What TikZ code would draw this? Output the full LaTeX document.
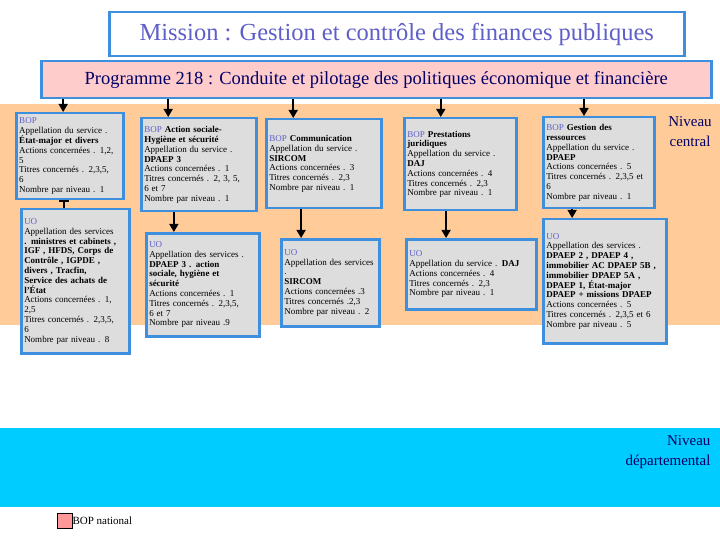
\documentclass[tikz,border=0pt]{standalone}
\usepackage{fontspec}
\setmainfont{Liberation Serif}
\usetikzlibrary{arrows.meta,calc}
\definecolor{bandorange}{HTML}{FFCC99}
\definecolor{bandcyan}{HTML}{00CCFF}
\definecolor{boxblue}{HTML}{3F8FDF}
\definecolor{boxgrey}{HTML}{DDDDDD}
\definecolor{titleblue}{HTML}{5F5FC8}
\definecolor{progpink}{HTML}{FFCCCC}
\definecolor{navy}{HTML}{000066}
\definecolor{legpink}{HTML}{FF9999}
\newcommand{\boxlab}[1]{\textcolor{titleblue}{#1}}

\begin{document}
\begin{tikzpicture}[x=1pt,y=-1pt]
\tikzstyle{cell}=[draw=boxblue,line width=2.5pt,fill=boxgrey,anchor=north west,align=left,
  inner xsep=3pt,inner ysep=3pt,font=\fontsize{9}{9.8}\selectfont]
\tikzstyle{conn}=[line width=1.5pt,-{Triangle[width=9pt,length=8pt]}]
\tikzstyle{level}=[align=center,anchor=north,font=\fontsize{15}{20}\selectfont,text=navy]
\useasboundingbox (0,0) rectangle (720,540);

% bands
\fill[bandorange] (0,104) rectangle (720,325);
\fill[bandcyan] (0,428) rectangle (720,507);

\node[draw=boxblue,line width=2.5pt,fill=white,anchor=north west,minimum width=575,minimum height=44,
  font=\fontsize{24.5}{28}\selectfont,text=titleblue] (mission) at (108,11)
  {Mission : Gestion et contrôle des finances publiques};
\node[draw=boxblue,line width=2.5pt,fill=progpink,anchor=north west,minimum width=670,minimum height=37,
  font=\fontsize{18.5}{20}\selectfont,text=navy] (prog) at (40,60)
  {Programme 218 : Conduite et pilotage des politiques économique et financière};

% BOP
\node[cell,text width=101,minimum height=86] (bopA) at (15,112)
  {\boxlab{BOP}\\ Appellation du service .\\ \textbf{État-major et divers}\\ Actions concernées . 1,2,\\ 5\\
   Titres concernés . 2,3,5,\\ 6\\ Nombre par niveau . 1};
\node[cell,text width=109,minimum height=93] (bopB) at (140,117)
  {\boxlab{BOP} \textbf{Action sociale-}\\ \textbf{Hygiène et sécurité}\\ Appellation du service .\\ \textbf{DPAEP 3}\\
   Actions concernées . 1\\ Titres concernés . 2, 3, 5,\\ 6 et 7\\ Nombre par niveau . 1};
\node[cell,text width=109,minimum height=89] (bopC) at (265,118)
  {\boxlab{BOP} \textbf{Communication}\\ Appellation du service .\\ \textbf{SIRCOM}\\ Actions concernées . 3\\
   Titres concernés . 2,3\\ Nombre par niveau . 1};
\node[cell,text width=106,minimum height=92] (bopD) at (403,117)
  {\boxlab{BOP} \textbf{Prestations}\\ \textbf{juridiques}\\ Appellation du service .\\ \textbf{DAJ}\\
   Actions concernées . 4\\ Titres concernés . 2,3\\ Nombre par niveau . 1};
\node[cell,text width=105,minimum height=91] (bopE) at (542,116)
  {\boxlab{BOP} \textbf{Gestion des}\\ \textbf{ressources}\\ Appellation du service .\\ \textbf{DPAEP}\\
   Actions concernées . 5\\ Titres concernés . 2,3,5 et\\ 6\\ Nombre par niveau . 1};

% UO
\node[cell,text width=102,minimum height=144] (uoA) at (20,208)
  {\boxlab{UO}\\ Appellation des services\\ \textbf{. ministres et cabinets ,}\\ \textbf{IGF , HFDS, Corps de}\\
   \textbf{Contrôle , IGPDE ,}\\ \textbf{divers , Tracfin,}\\ \textbf{Service des achats de}\\ \textbf{l'État}\\
   Actions concernées . 1,\\ 2,5\\ Titres concernés . 2,3,5,\\ 6\\ Nombre par niveau . 8};
\node[cell,text width=107,minimum height=103] (uoB) at (145,232)
  {\boxlab{UO}\\ Appellation des services .\\ \textbf{DPAEP 3 . action}\\ \textbf{sociale, hygiène et}\\ \textbf{sécurité}\\
   Actions concernées . 1\\ Titres concernés . 2,3,5,\\ 6 et 7\\ Nombre par niveau .9};
\node[cell,text width=92,minimum height=87] (uoC) at (280,238)
  {\boxlab{UO}\\ Appellation des services\\ .\\ \textbf{SIRCOM}\\ Actions concernées .3\\
   Titres concernés .2,3\\ Nombre par niveau . 2};
\node[cell,text width=124,minimum height=70] (uoD) at (405,238)
  {\boxlab{UO}\\ Appellation du service . \textbf{DAJ}\\ Actions concernées . 4\\
   Titres concernés . 2,3\\ Nombre par niveau . 1};
\node[cell,text width=117,minimum height=124] (uoE) at (542,218)
  {\boxlab{UO}\\ Appellation des services .\\ \textbf{DPAEP 2 , DPAEP 4 ,}\\ \textbf{immobilier AC DPAEP 5B ,}\\
   \textbf{immobilier DPAEP 5A ,}\\ \textbf{DPAEP 1, État-major}\\ \textbf{DPAEP + missions DPAEP}\\
   Actions concernées . 5\\ Titres concernés . 2,3,5 et 6\\ Nombre par niveau . 5};

% connectors
\coordinate (tA) at ($(bopA.north west)!.44!(bopA.north east)$);
\coordinate (tB) at ($(bopB.north west)!.24!(bopB.north east)$);
\coordinate (tC) at ($(bopC.north west)!.24!(bopC.north east)$);
\coordinate (tD) at ($(bopD.north west)!.33!(bopD.north east)$);
\coordinate (tE) at ($(bopE.north west)!.37!(bopE.north east)$);
\foreach \c in {A,B,C,D,E}
  \draw[conn] (prog.south -| t\c) -- (t\c);

\coordinate (uA) at ($(uoA.north west)!.40!(uoA.north east)$);
\coordinate (uB) at ($(uoB.north west)!.25!(uoB.north east)$);
\coordinate (uC) at ($(uoC.north west)!.21!(uoC.north east)$);
\coordinate (uD) at ($(uoD.north west)!.31!(uoD.north east)$);
\coordinate (uE) at ($(uoE.north west)!.24!(uoE.north east)$);
\draw[line width=1.5pt,{Bar[width=10pt]}-] (bopA.south -| uA) -- (uA);
\foreach \c in {B,C,D,E}
  \draw[conn] (bop\c.south -| u\c) -- (u\c);

% levels
\node[level] (central) at (690,113) {Niveau\\ central};
\node[level,align=right,anchor=north east] (dep) at (714,432) {Niveau\\ départemental};

% legend
\node[draw=black,fill=legpink,minimum size=15,inner sep=0pt,anchor=north west] (legbox) at (57,513) {};
\node[anchor=west,font=\fontsize{11}{13}\selectfont,inner sep=0pt] (legtext) at (legbox.east) {BOP national};
\end{tikzpicture}
\end{document}
